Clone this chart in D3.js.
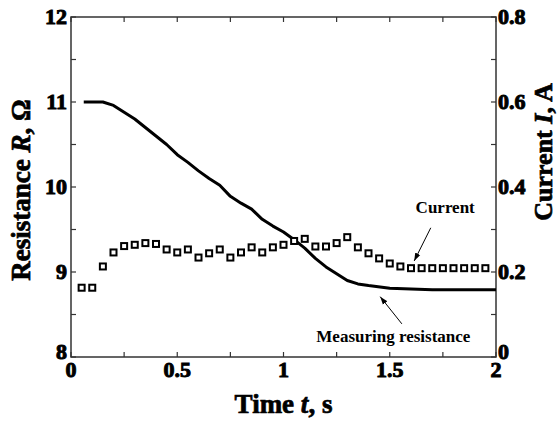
<!DOCTYPE html>
<html>
<head>
<meta charset="utf-8">
<script src="https://d3js.org/d3.v7.min.js"></script>
<style>
  body { margin: 0; background: #fff; }
  svg text { font-family: "Liberation Serif", "Times New Roman", serif; font-weight: 700; fill: #000; }
  svg text.heavy { stroke: #000; stroke-width: 0.7px; }
  svg text.tick { stroke: #000; stroke-width: 1px; }
</style>
</head>
<body>
<svg id="chart" width="558" height="421"></svg>
<script>
// resistance curve (time in s, resistance in ohm)
const resTime = [0.06, 0.15, 0.2, 0.25, 0.3, 0.35, 0.4, 0.45, 0.5, 0.55, 0.6, 0.65, 0.7, 0.75, 0.8, 0.85, 0.9, 0.95,
                 1.0, 1.05, 1.1, 1.15, 1.2, 1.25, 1.3, 1.35, 1.4, 1.5, 1.6, 1.7, 1.8, 1.9, 2.0];
const resValues = [11.0, 11.0, 10.96, 10.88, 10.80, 10.70, 10.60, 10.50, 10.38, 10.29, 10.19, 10.10, 10.02, 9.89, 9.81, 9.74, 9.62, 9.54,
                   9.47, 9.38, 9.28, 9.16, 9.06, 8.98, 8.90, 8.86, 8.84, 8.81, 8.80, 8.79, 8.79, 8.79, 8.79];

// current samples every 0.05 s (A)
const curTime = d3.range(1, 40).map(i => i * 0.05);
const curValues = [0.163, 0.163, 0.213, 0.246, 0.261, 0.264, 0.268, 0.266, 0.253, 0.246, 0.253, 0.234, 0.244, 0.253,
                   0.234, 0.246, 0.258, 0.246, 0.258, 0.264, 0.273, 0.278, 0.260, 0.260, 0.268, 0.282, 0.258, 0.244,
                   0.232, 0.220, 0.213, 0.209, 0.209, 0.209, 0.209, 0.209, 0.209, 0.209, 0.209];

const xTicks = [0, 0.5, 1, 1.5, 2];
const xTickLabels = ["0", "0.5", "1", "1.5", "2"];
const leftTicks = [8, 9, 10, 11, 12];
const rightTicks = [0, 0.2, 0.4, 0.6, 0.8];
const rightTickLabels = ["0", "0.2", "0.4", "0.6", "0.8"];

const svg = d3.select("#chart");
const margin = {left: 71, right: 62, top: 17, bottom: 64};
const W = 558, H = 421;

const x = d3.scaleLinear().domain([0, 2]).range([margin.left, W - margin.right]);
const yR = d3.scaleLinear().domain([8, 12]).range([H - margin.bottom, margin.top]);
const yI = d3.scaleLinear().domain([0, 0.8]).range([H - margin.bottom, margin.top]);

const axisColor = "#333";
const serif = "'Liberation Serif', 'Times New Roman', serif";

// frame
svg.append("rect")
  .attr("x", x(0)).attr("y", yR(12))
  .attr("width", x(2) - x(0)).attr("height", yR(8) - yR(12))
  .attr("fill", "none").attr("stroke", axisColor).attr("stroke-width", 1.5);

// inward ticks (major + minor)
const tickLen = 5;
const g = svg.append("g").attr("stroke", axisColor).attr("stroke-width", 1.2);
d3.range(0, 2.001, 0.25).forEach(t => {
  g.append("line").attr("x1", x(t)).attr("x2", x(t)).attr("y1", yR(8)).attr("y2", yR(8) - tickLen);
  g.append("line").attr("x1", x(t)).attr("x2", x(t)).attr("y1", yR(12)).attr("y2", yR(12) + tickLen);
});
d3.range(8, 12.001, 0.5).forEach(v => {
  g.append("line").attr("x1", x(0)).attr("x2", x(0) + tickLen).attr("y1", yR(v)).attr("y2", yR(v));
});
d3.range(0, 0.801, 0.1).forEach(v => {
  g.append("line").attr("x1", x(2)).attr("x2", x(2) - tickLen).attr("y1", yI(v)).attr("y2", yI(v));
});

// tick labels
const fs = 22;
svg.selectAll(".xl").data(xTicks).join("text").attr("class", "tick")
  .attr("font-family", serif).attr("font-weight", "bold")
  .attr("x", d => x(d)).attr("y", yR(8) + 20)
  .attr("text-anchor", "middle").style("font-size", fs + "px")
  .text((d, i) => xTickLabels[i]);
svg.selectAll(".yl").data(leftTicks).join("text").attr("class", "tick")
  .attr("font-family", serif).attr("font-weight", "bold")
  .attr("x", x(0) - 4).attr("y", d => yR(d) + (d === 8 ? 2 : 7))
  .attr("text-anchor", "end").style("font-size", fs + "px")
  .text(d => d);
svg.selectAll(".yr").data(rightTicks).join("text").attr("class", "tick")
  .attr("font-family", serif).attr("font-weight", "bold")
  .attr("x", x(2) + 2).attr("y", d => yI(d) + (d === 0 ? 2 : 7))
  .attr("text-anchor", "start").style("font-size", fs + "px")
  .text((d, i) => rightTickLabels[i]);

// axis titles
const xt = svg.append("text").attr("class", "heavy").attr("x", (x(0) + x(2)) / 2).attr("y", 413)
  .attr("text-anchor", "middle").style("font-size", "27px");
xt.append("tspan").text("Time ");
xt.append("tspan").style("font-style", "italic").text("t");
xt.append("tspan").text(", s");

const lt = svg.append("text").attr("class", "heavy").attr("transform", "translate(30,190) rotate(-90)")
  .attr("text-anchor", "middle").style("font-size", "27px");
lt.append("tspan").text("Resistance ");
lt.append("tspan").style("font-style", "italic").text("R");
lt.append("tspan").text(", Ω");

const rt = svg.append("text").attr("class", "heavy").attr("transform", "translate(552,152) rotate(-90)")
  .attr("text-anchor", "middle").style("font-size", "26px");
rt.append("tspan").text("Current ");
rt.append("tspan").style("font-style", "italic").text("I");
rt.append("tspan").text(", A");

// resistance line
const line = d3.line().x((d, i) => x(resTime[i])).y(d => yR(d));
svg.append("path").datum(resValues)
  .attr("d", line).attr("fill", "none").attr("stroke", "#000")
  .attr("stroke-width", 3).attr("stroke-linejoin", "round");

// current squares
const sq = 6;
svg.selectAll(".sq").data(curValues).join("rect")
  .attr("x", (d, i) => x(curTime[i]) - sq / 2)
  .attr("y", d => yI(d) - sq / 2)
  .attr("width", sq).attr("height", sq)
  .attr("fill", "#fff").attr("stroke", "#000").attr("stroke-width", 2);

// annotations
svg.append("defs").append("marker")
  .attr("id", "arr").attr("viewBox", "0 0 10 10").attr("refX", 10).attr("refY", 5)
  .attr("markerWidth", 8).attr("markerHeight", 8).attr("orient", "auto")
  .append("path").attr("d", "M0,1.5L10,5L0,8.5Z").attr("fill", "#000");

svg.append("text").attr("x", x(1.761)).attr("y", yR(9.70))
  .attr("text-anchor", "middle").style("font-size", "17px").text("Current");
svg.append("line")
  .attr("x1", x(1.693)).attr("y1", yR(9.52)).attr("x2", x(1.615)).attr("y2", yR(9.13))
  .attr("stroke", "#000").attr("stroke-width", 1).attr("marker-end", "url(#arr)");

svg.append("text").attr("x", x(1.517)).attr("y", yR(8.18))
  .attr("text-anchor", "middle").style("font-size", "17px").text("Measuring resistance");
svg.append("line")
  .attr("x1", x(1.557)).attr("y1", yR(8.39)).attr("x2", x(1.455)).attr("y2", yR(8.71))
  .attr("stroke", "#000").attr("stroke-width", 1).attr("marker-end", "url(#arr)");
</script>
</body>
</html>
